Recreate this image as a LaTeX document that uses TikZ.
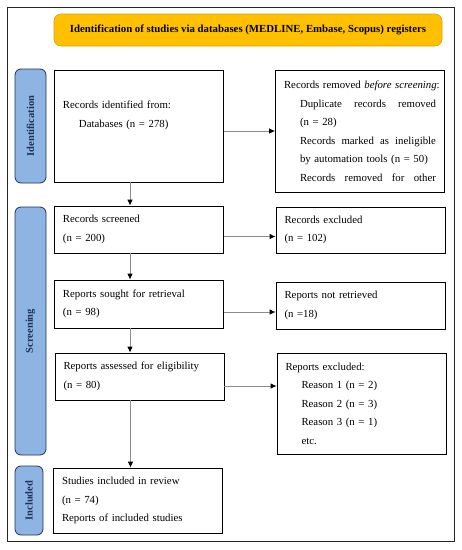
\documentclass[tikz,border=0pt]{standalone}
\usepackage{fontspec}
\setmainfont{Liberation Serif}
\usetikzlibrary{arrows.meta, positioning, calc}
\definecolor{prismagold}{RGB}{255, 192, 0}
\definecolor{prismablue}{RGB}{142, 180, 227}
\definecolor{prismanavy}{RGB}{31, 50, 90}
\newcommand{\spreadline}[1]{\makebox[136pt][s]{\spaceskip=0pt\relax #1}}

\begin{document}
\begin{tikzpicture}[x=1pt, y=1pt,
    box/.style={rectangle, draw=black, line width=0.8pt, text width=152pt, inner xsep=8.5pt, inner ysep=0pt, align=left, font=\fontsize{10.8}{18.5}\selectfont},
    stage/.style={rectangle, rounded corners=6pt, draw=prismanavy, fill=prismablue, line width=0.8pt, rotate=90, minimum height=31pt, inner sep=0pt, text=prismanavy, font=\fontsize{10.5}{12}\selectfont\bfseries},
    arrow/.style={-{Latex[color=black, length=6pt, width=5.5pt]}, draw=black!45, line width=0.8pt}
]
\useasboundingbox (0,0) rectangle (462,-550);

% Frame
\draw[line width=0.9pt, black!85] (7,-7) rectangle (454,-541);

% Title
\node[rectangle, rounded corners=7pt, fill=prismagold, draw=prismagold!85!black, line width=0.6pt, minimum width=388pt, minimum height=32pt, font=\fontsize{10.8}{12}\selectfont\bfseries] (title) at (248,-30) {Identification of studies via databases (MEDLINE, Embase, Scopus) registers};

% Stages
\node[stage, minimum width=114pt] (idstage) at (30.5,-126) {Identification};
\node[stage, minimum width=248pt] (scrstage) at (30.5,-331) {Screening};
\node[stage, minimum width=69pt, minimum height=28pt] (incstage) at (29,-500.5) {Included};

% Left column
\node[box, minimum height=112pt] (ident) at (139,-126) {Records identified from:\\ \hspace*{16pt}Databases (n = 278)\\ \strut};
\node[box, minimum height=47pt] (screened) at (139,-229.5) {Records screened\\ (n = 200)};
\node[box, minimum height=48pt] (sought) at (139,-304) {Reports sought for retrieval\\ (n = 98)};
\node[box, minimum height=47pt] (assessed) at (139.5,-376.5) {Reports assessed for eligibility\\ (n = 80)};
\node[box, minimum height=65pt] (included) at (138,-500.5) {Studies included in review\\ (n = 74)\\ Reports of included studies};

% Right column
\node[box, minimum height=122pt] (removed) at (360,-131) {\mbox{Records removed \textit{before screening}:}\\
    \hspace*{16pt}\spreadline{Duplicate records removed}\\
    \hspace*{16pt}(n = 28)\\
    \hspace*{16pt}\spreadline{Records marked as ineligible}\\
    \hspace*{16pt}by automation tools (n = 50)\\
    \hspace*{16pt}\spreadline{Records removed for other}};
\node[box, minimum height=46pt] (excluded) at (360.5,-230) {Records excluded\\ (n = 102)};
\node[box, minimum height=47pt] (notretr) at (360.5,-305.5) {Reports not retrieved\\ (n =18)};
\node[box, minimum height=101pt] (repexcl) at (361.5,-403.5) {Reports excluded:\\
    \hspace*{16pt}Reason 1 (n = 2)\\
    \hspace*{16pt}Reason 2 (n = 3)\\
    \hspace*{16pt}Reason 3 (n = 1)\\
    \hspace*{16pt}etc.};

% Arrows down
\draw[arrow] ([xshift=-9pt]ident.south) -- ([xshift=-9pt]ident.south |- screened.north);
\draw[arrow] ([xshift=-9pt]screened.south) -- ([xshift=-9pt]screened.south |- sought.north);
\draw[arrow] ([xshift=-9pt]sought.south) -- ([xshift=-9pt]sought.south |- assessed.north);
\draw[arrow] ([xshift=-9pt]assessed.south) -- ([xshift=-9pt]assessed.south |- included.north);

% Arrows right
\draw[arrow] (ident.east |- removed.west) -- (removed.west);
\draw[arrow] ([yshift=-7pt]screened.east) -- ([yshift=-7pt]screened.east -| excluded.west);
\draw[arrow] ([yshift=-8pt]sought.east) -- ([yshift=-8pt]sought.east -| notretr.west);
\draw[arrow] ([yshift=-9.5pt]assessed.east) -- ([yshift=-9.5pt]assessed.east -| repexcl.west);
\end{tikzpicture}
\end{document}
